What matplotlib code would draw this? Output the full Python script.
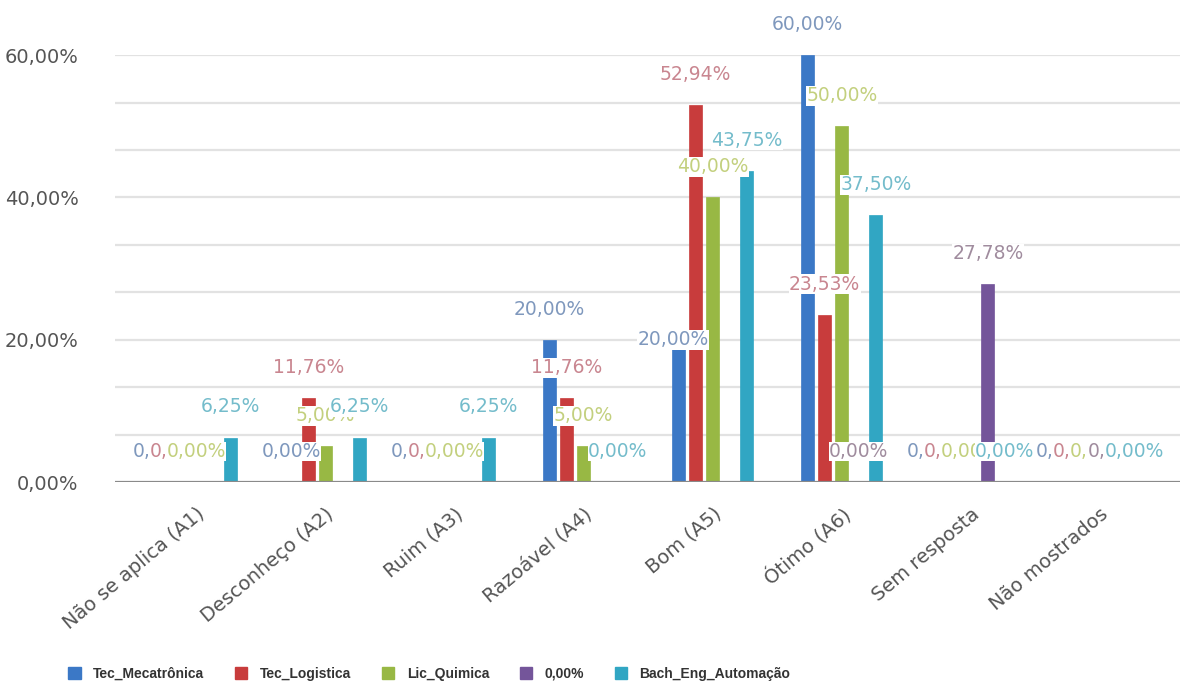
import numpy as np
import matplotlib
matplotlib.use("Agg")
import matplotlib.pyplot as plt

categories = ["Não se aplica (A1)", "Desconheço (A2)", "Ruim (A3)", "Razoável (A4)",
              "Bom (A5)", "Ótimo (A6)", "Sem resposta", "Não mostrados"]
series_names = ["Tec_Mecatrônica", "Tec_Logistica", "Lic_Quimica", "0,00%", "Bach_Eng_Automação"]
tec_mecatronica = [0.00, 0.00, 0.00, 20.00, 20.00, 60.00, 0.00, 0.00]
tec_logistica = [0.00, 11.76, 0.00, 11.76, 52.94, 23.53, 0.00, 0.00]
lic_quimica = [0.00, 5.00, 0.00, 5.00, 40.00, 50.00, 0.00, 0.00]
serie_zero = [0.00, 0.00, 0.00, 0.00, 0.00, 0.00, 27.78, 0.00]
bach_eng_automacao = [6.25, 6.25, 6.25, 0.00, 43.75, 37.50, 0.00, 0.00]
yticks = [0, 20, 40, 60]
ytick_labels = ["0,00%", "20,00%", "40,00%", "60,00%"]

values = [tec_mecatronica, tec_logistica, lic_quimica, serie_zero, bach_eng_automacao]
bar_colors = ["#3b78c6", "#c83c3c", "#98b844", "#74559a", "#31a6c3"]
label_colors = ["#7f98bd", "#c98690", "#c3d07e", "#a08c9e", "#74bccb"]

# data labels that the original chart hid (series index, category index)
hidden_labels = {(3, 0), (3, 1), (3, 2), (3, 3), (3, 4)}
# data labels that the original chart moved onto the bar top
moved_labels = {(0, 4)}

fig = plt.figure(figsize=(11.84, 6.89), dpi=100)
ax = fig.add_axes([0.097, 0.3004, 0.8996, 0.6196])

x = np.arange(len(categories))
step = 0.132
width = 0.10
for i, (vals, col, lc) in enumerate(zip(values, bar_colors, label_colors)):
    pos = x + (i - 2) * step
    ax.bar(pos, vals, width=width, color=col, edgecolor=col, linewidth=0.5, zorder=3)
    for j, (px, v) in enumerate(zip(pos, vals)):
        if (i, j) in hidden_labels:
            continue
        off = (0, 22)
        if (i, j) in moved_labels:
            off = (-4, 0)
        txt = f"{v:.2f}%".replace(".", ",")
        ax.annotate(txt, (px, v), xytext=off, textcoords="offset points",
                    ha="center", va="center", fontsize=13.5, color=lc, zorder=5,
                    bbox=dict(boxstyle="square,pad=0.02", fc="white", ec="none"),
                    annotation_clip=False)

ax.set_xlim(-0.63, 7.62)
ax.set_ylim(0, 60)
grid_levels = np.linspace(0, 60, 10)
for g in grid_levels[1:]:
    ax.axhline(g, color="#e2e2e2", lw=1.6, zorder=1)
ax.axhline(0, color="#8a8a8a", lw=1.6, zorder=4)

ax.set_yticks(yticks)
ax.set_yticklabels(ytick_labels, fontsize=14, color="#555555")
ax.set_xticks(x)
ax.set_xticklabels(categories, rotation=40, ha="right", rotation_mode="anchor",
                   fontsize=14, color="#555555")
ax.tick_params(axis="both", length=0)
ax.tick_params(axis="y", pad=26)
ax.tick_params(axis="x", pad=16)
for s in ax.spines.values():
    s.set_visible(False)

handles = [plt.Rectangle((0, 0), 1, 1, color=c) for c in bar_colors]
leg = fig.legend(handles, series_names, loc="center left", bbox_to_anchor=(0.047, 0.022),
                 ncol=5, frameon=False, handlelength=0.9, handleheight=0.9,
                 columnspacing=2.2, handletextpad=0.9,
                 prop=dict(family="Liberation Sans", weight="bold", size=10))
for t in leg.get_texts():
    t.set_color("#333333")

fig.savefig("out.png", dpi=100, facecolor="white")
